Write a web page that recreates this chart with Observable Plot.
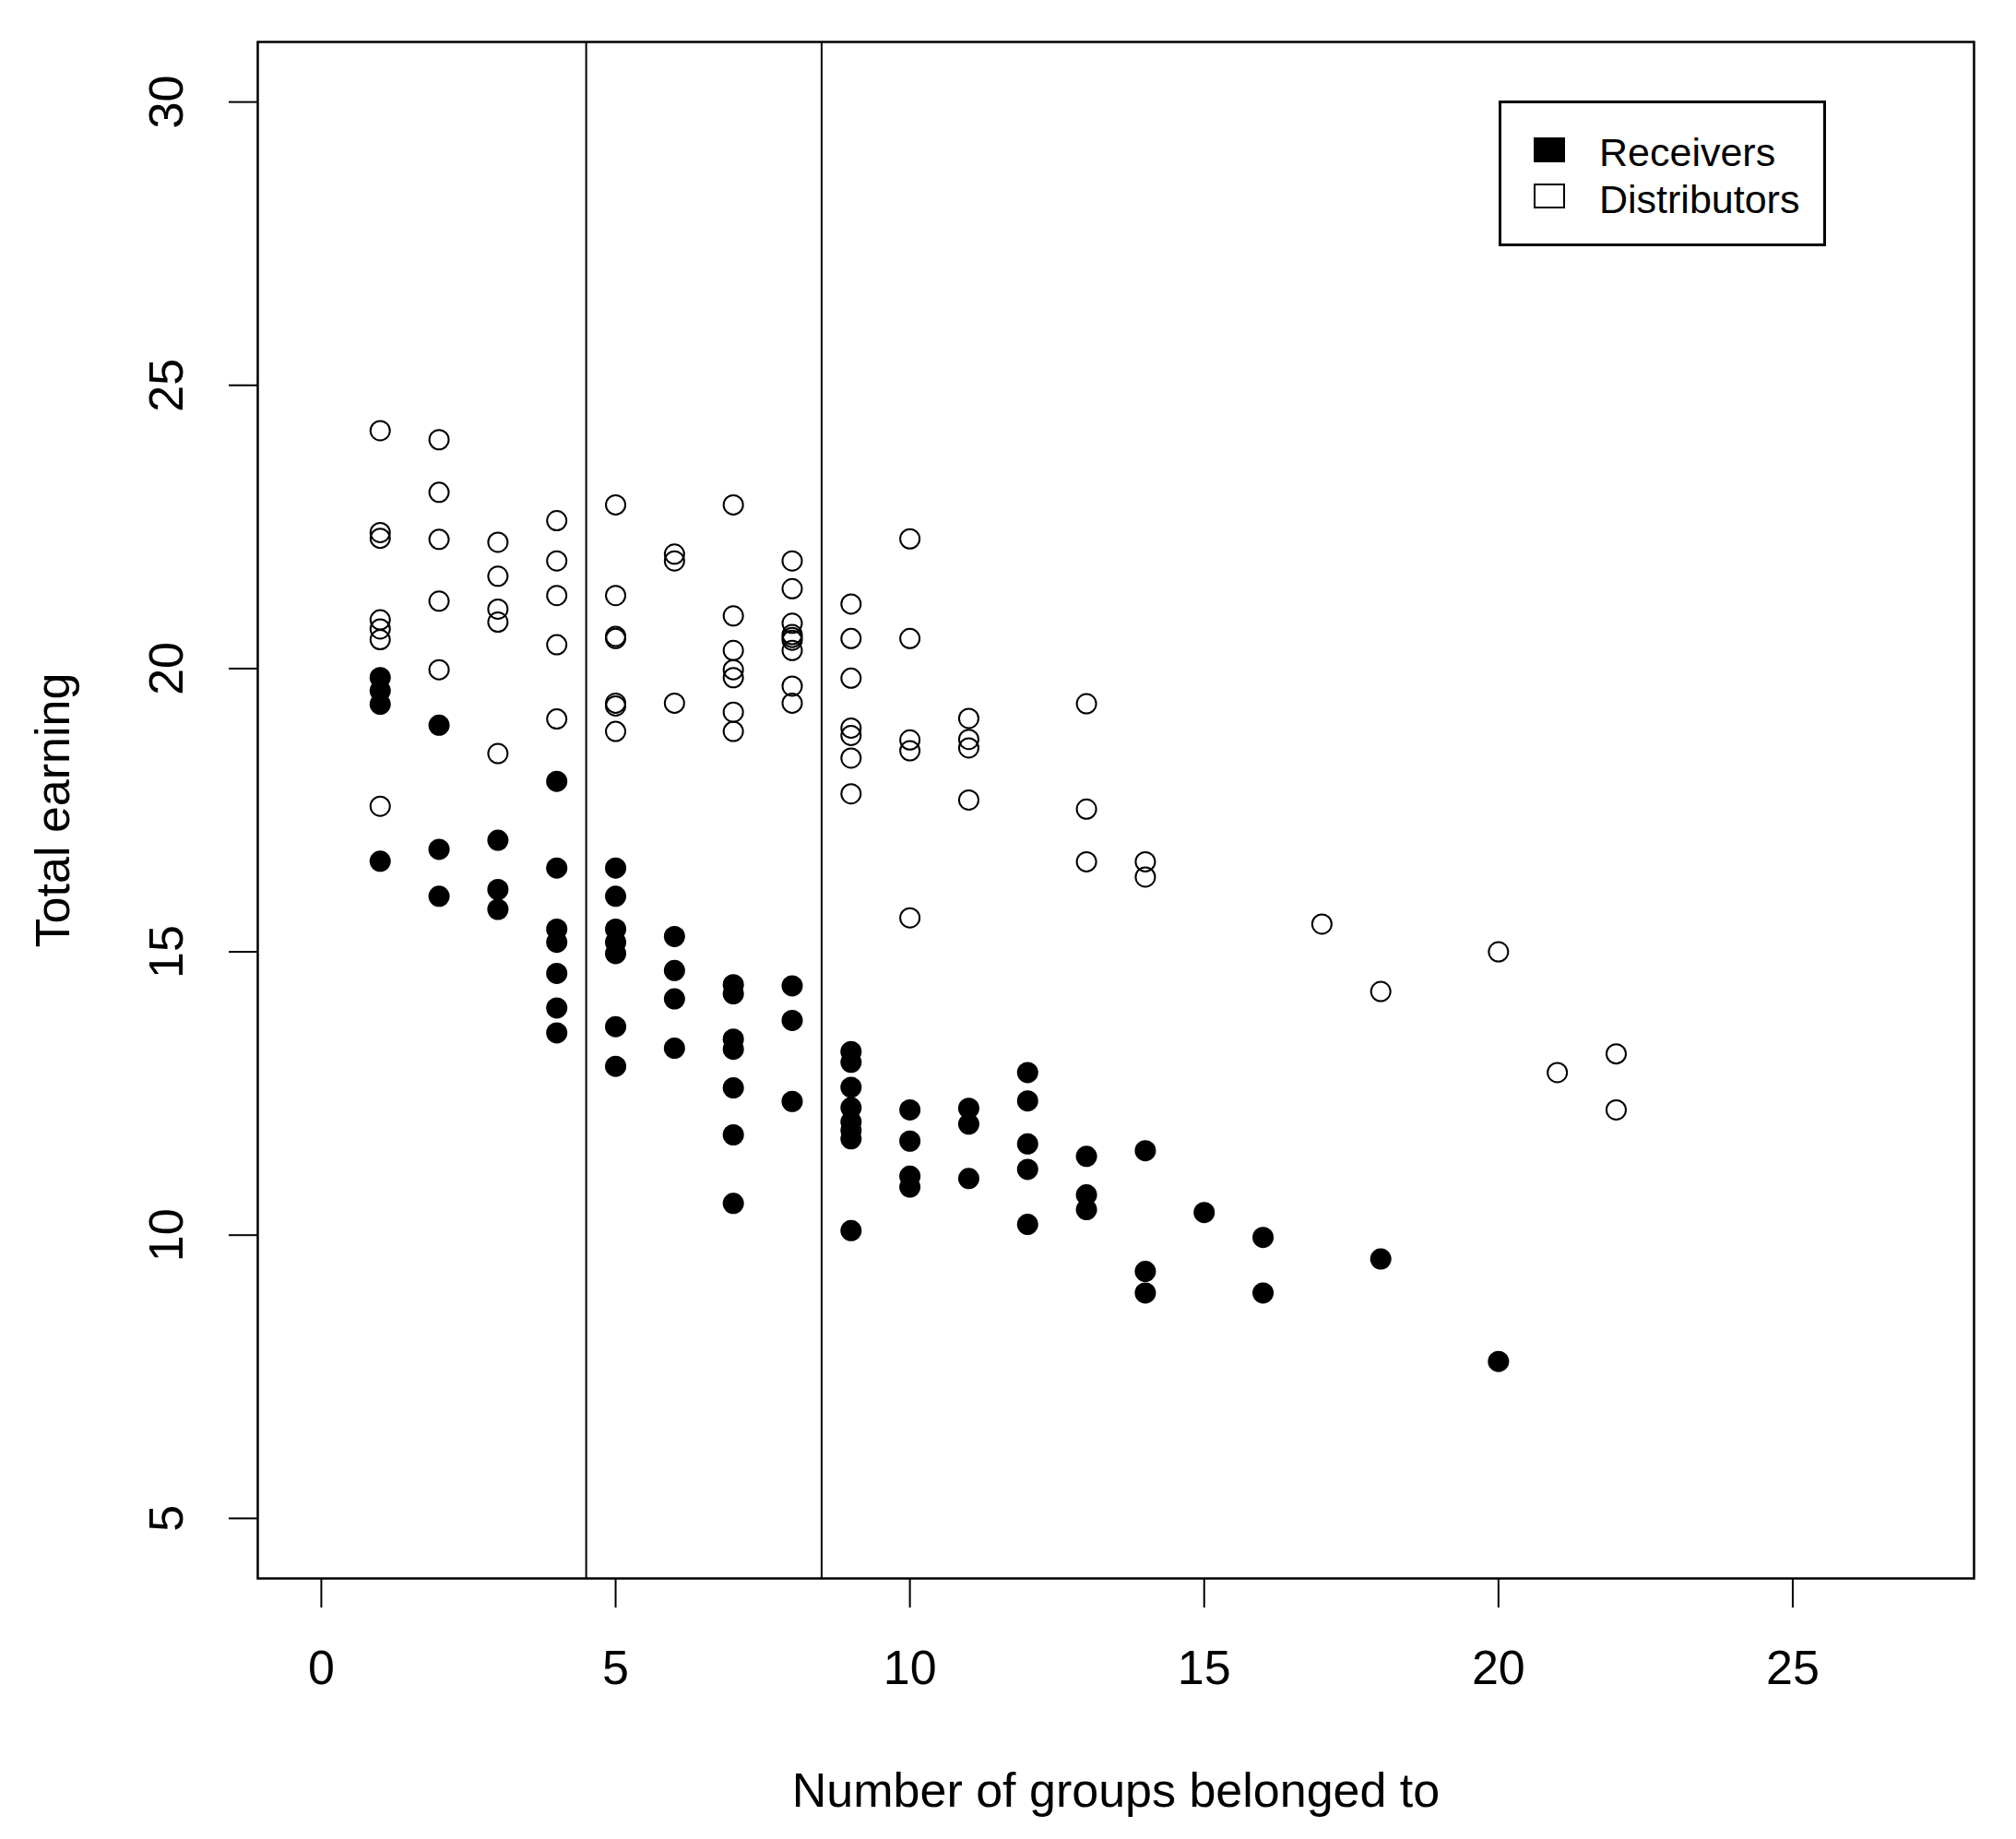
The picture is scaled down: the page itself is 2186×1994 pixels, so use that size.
<!DOCTYPE html>
<html>
<head>
<meta charset="utf-8">
<script src="https://cdn.jsdelivr.net/npm/d3@7"></script>
<script src="https://cdn.jsdelivr.net/npm/@observablehq/plot@0.6"></script>
<style>
  html, body { margin: 0; padding: 0; background: #fff; }
  #wrap { position: relative; width: 2186px; height: 1994px; font-family: "Liberation Sans", Arial, sans-serif; }
  #legend { position: absolute; left: 1625px; top: 109px; width: 349px; height: 152px; border: 3px solid #000; background: #fff; box-sizing: content-box; }
  .lg-sw { position: absolute; left: 35px; width: 34px; height: 27px; box-sizing: border-box; border: 2px solid #000; }
  .lg-tx { position: absolute; left: 106px; font-size: 43px; line-height: 1; white-space: nowrap; color: #000; }
</style>
</head>
<body>
<div id="wrap"></div>
<script>
// ---- data ----
const xLabel = "Number of groups belonged to";
const yLabel = "Total earning";
const seriesNames = ["Receivers", "Distributors"];
const xTicks = [0, 5, 10, 15, 20, 25];
const yTicks = [5, 10, 15, 20, 25, 30];
const cutoffs = [4.5, 8.5];

// Distributors (open circles)
const distX = [
  1,1,1,1,1,1,1,
  2,2,2,2,2,
  3,3,3,3,3,
  4,4,4,4,4,
  5,5,5,5,5,5,5,
  6,6,6,
  7,7,7,7,7,7,7,
  8,8,8,8,8,8,8,8,8,
  9,9,9,9,9,9,9,
  10,10,10,10,10,
  11,11,11,11,
  13,13,13,
  14,14,
  17,18,20,21,22,22
];
const distY = [
  24.20,22.40,22.30,20.86,20.70,20.51,17.57,
  24.04,23.11,22.28,21.19,19.98,
  22.23,21.63,21.05,20.82,18.50,
  22.61,21.90,21.29,20.42,19.11,
  22.89,21.29,20.57,20.53,19.39,19.34,18.89,
  22.02,21.90,19.39,
  22.89,20.93,20.32,19.98,19.84,19.23,18.89,
  21.90,21.41,20.80,20.60,20.55,20.50,20.32,19.69,19.39,
  21.14,20.53,19.83,18.95,18.82,18.42,17.79,
  22.29,20.53,18.74,18.55,15.60,
  19.12,18.75,18.60,17.68,
  19.38,17.52,16.59,
  16.59,16.32,
  15.49,14.30,15.00,12.87,13.20,12.21
];

// Receivers (filled circles)
const recX = [
  1,1,1,1,
  2,2,2,
  3,3,3,
  4,4,4,4,4,4,4,
  5,5,5,5,5,5,5,
  6,6,6,6,
  7,7,7,7,7,7,7,
  8,8,8,
  9,9,9,9,9,9,9,9,
  10,10,10,10,
  11,11,11,
  12,12,12,12,12,
  13,13,13,
  14,14,14,
  15,16,16,18,20
];
const recY = [
  19.84,19.61,19.37,16.60,
  19.00,16.81,15.98,
  16.97,16.10,15.75,
  18.01,16.48,15.40,15.17,14.62,14.01,13.57,
  16.48,15.98,15.40,15.17,14.97,13.68,12.98,
  15.27,14.67,14.17,13.30,
  14.42,14.26,13.46,13.28,12.60,11.77,10.56,
  14.40,13.79,12.36,
  13.24,13.05,12.61,12.25,12.00,11.85,11.70,10.08,
  12.21,11.66,11.04,10.85,
  12.24,11.96,11.00,
  12.87,12.37,11.61,11.16,10.19,
  11.39,10.71,10.45,
  11.49,9.36,8.98,
  10.40,9.96,8.98,9.58,7.77
];

const receivers = recX.map((x, i) => ({x, y: recY[i]}));
const distributors = distX.map((x, i) => ({x, y: distY[i]}));

const font = "'Liberation Sans', Arial, sans-serif";

const chart = Plot.plot({
  width: 2186,
  height: 1994,
  marginLeft: 279,
  marginRight: 46,
  marginTop: 45,
  marginBottom: 283,
  style: { fontFamily: font, background: "#fff", color: "#000" },
  x: { domain: [-1.08, 28.08], axis: null },
  y: { domain: [3.94, 31.06], axis: null },
  marks: [
    Plot.ruleX(cutoffs, { stroke: "#000", strokeWidth: 2 }),
    Plot.dot(receivers, { x: "x", y: "y", r: 11.5, fill: "#000", stroke: "none" }),
    Plot.dot(distributors, { x: "x", y: "y", r: 10.5, fill: "none", stroke: "#000", strokeWidth: 2 }),
    Plot.frame({ stroke: "#000", strokeWidth: 2.5 }),
    Plot.axisX({ ticks: xTicks, tickSize: 32, tickPadding: 46, fontSize: 52, label: null, strokeWidth: 2, tickFormat: d => String(d) }),
    Plot.axisY({ ticks: yTicks, tickSize: 31, fontSize: 1, label: null, strokeWidth: 2, tickFormat: () => "" }),
    Plot.text(yTicks, { y: d => d, text: d => String(d), frameAnchor: "left", textAnchor: "middle", lineAnchor: "middle", dx: -98, rotate: -90, fontSize: 52, fill: "#000" }),
    Plot.text([xLabel], { text: d => d, frameAnchor: "bottom", textAnchor: "middle", lineAnchor: "middle", dy: 231, fontSize: 52, fill: "#000" }),
    Plot.text([yLabel], { text: d => d, frameAnchor: "left", textAnchor: "middle", lineAnchor: "middle", dx: -221, rotate: -90, fontSize: 52, fill: "#000" })
  ]
});

const wrap = document.getElementById("wrap");
wrap.appendChild(chart);

// legend
const legend = document.createElement("div");
legend.id = "legend";
seriesNames.forEach((name, i) => {
  const sw = document.createElement("div");
  sw.className = "lg-sw";
  sw.style.top = (i === 0 ? 37 : 87) + "px";
  sw.style.background = i === 0 ? "#000" : "#fff";
  const tx = document.createElement("div");
  tx.className = "lg-tx";
  tx.style.top = (i === 0 ? 32 : 83) + "px";
  tx.textContent = name;
  legend.appendChild(sw);
  legend.appendChild(tx);
});
wrap.appendChild(legend);
</script>
</body>
</html>
